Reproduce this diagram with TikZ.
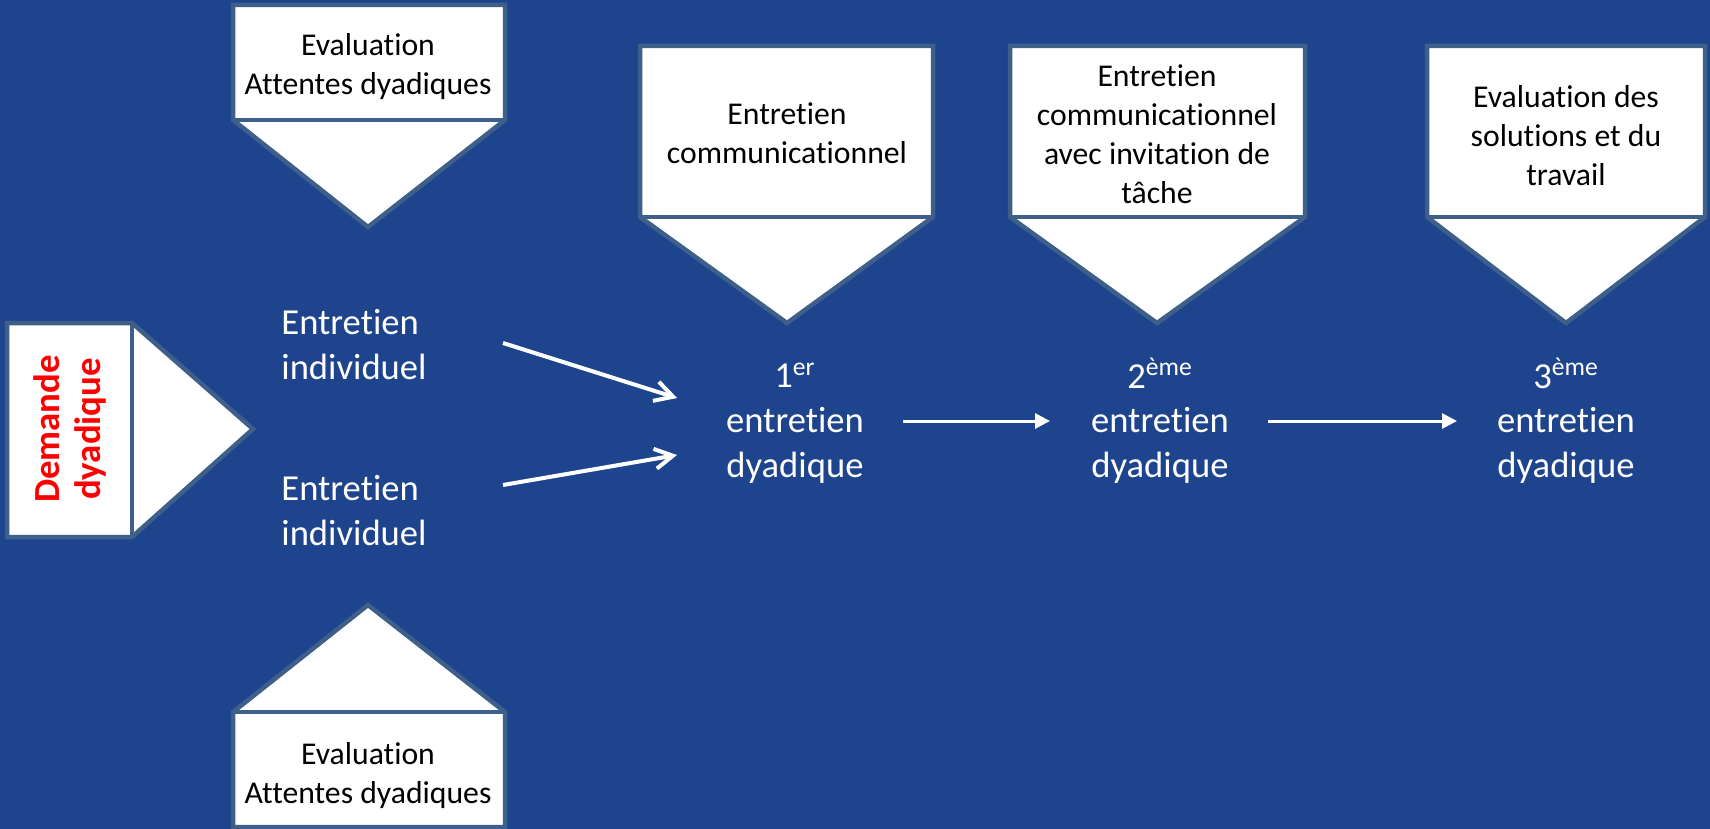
\documentclass[tikz,border=0pt]{standalone}
\usepackage{fontspec}
\setmainfont{Carlito}[RawFeature={-liga;-clig}]
\usetikzlibrary{arrows.meta}
\definecolor{slidebg}{RGB}{31,68,142}
\definecolor{calloutline}{RGB}{62,95,138}
\definecolor{alertred}{RGB}{255,0,0}

\begin{document}
\begin{tikzpicture}[x=0.5pt,y=-0.5pt,
  callout/.style={fill=white, draw=calloutline, line width=2.25pt, line join=miter},
  divider/.style={draw=calloutline, line width=2.25pt},
  boxtext/.style={text=black, font={\fontsize{15.85}{19.5}\selectfont}, align=center,
    inner sep=0pt, anchor=north, execute at begin node=\strut, execute at end node=\strut},
  steptext/.style={text=white, font={\fontsize{18.3}{22.3}\selectfont}, align=center,
    inner sep=0pt, anchor=north, execute at begin node=\strut, execute at end node=\strut},
  redtext/.style={text=alertred, font={\fontsize{18.4}{20.5}\selectfont\bfseries}, align=center,
    inner sep=0pt, anchor=north, rotate=90, execute at begin node=\strut, execute at end node=\strut},
  barb/.style={draw=white, line width=2pt, -{Straight Barb[length=9pt,width=10pt]}},
  flow/.style={draw=white, line width=1.5pt, -{Triangle[length=7.5pt,width=7.5pt]}}
]
\useasboundingbox (0,0) rectangle (1710,829);
\fill[slidebg] (0,0) rectangle (1710,829);

% left callout pointing right
\draw[callout] (7,323) -- (132,323) -- (253,429) -- (132,537) -- (7,537) -- cycle;
\draw[divider] (132,323) -- (132,537);
\node[redtext] (demande) at (33,429) {Demande\\dyadique};

% evaluation callouts above and below the individual interviews
\draw[callout] (233,5) -- (505,5) -- (505,120) -- (368,227) -- (233,120) -- cycle;
\draw[divider] (233,120) -- (505,120);
\node[boxtext] (evaltop) at (368,32.7) {Evaluation\\Attentes dyadiques};

\draw[callout] (233,827) -- (505,827) -- (505,712) -- (368,605) -- (233,712) -- cycle;
\draw[divider] (233,712) -- (505,712);
\node[boxtext] (evalbot) at (368,741.7) {Evaluation\\Attentes dyadiques};

% callouts over the dyadic interviews
\draw[callout] (640,46) -- (933,46) -- (933,217) -- (787,323) -- (640,217) -- cycle;
\draw[divider] (640,217) -- (933,217);
\node[boxtext] (commA) at (787,102.7) {Entretien\\communicationnel};

\draw[callout] (1010,46) -- (1305,46) -- (1305,217) -- (1157,323) -- (1010,217) -- cycle;
\draw[divider] (1010,217) -- (1305,217);
\node[boxtext] (commB) at (1157,64.7) {Entretien\\communicationnel\\avec invitation de\\tâche};

\draw[callout] (1427,46) -- (1705,46) -- (1705,217) -- (1566,323) -- (1427,217) -- cycle;
\draw[divider] (1427,217) -- (1705,217);
\node[boxtext] (evalsol) at (1566,84.7) {Evaluation des\\solutions et du\\travail};

% interview steps
\node[steptext, align=left, anchor=north west] (ind1) at (281,309) {Entretien\\individuel};
\node[steptext, align=left, anchor=north west] (ind2) at (281,475) {Entretien\\individuel};
\node[steptext] (dy1) at (795,364) {1\smash{\textsuperscript{er}}\\entretien\\dyadique};
\node[steptext] (dy2) at (1160,364) {2\smash{\textsuperscript{ème}}\\entretien\\dyadique};
\node[steptext] (dy3) at (1566,364) {3\smash{\textsuperscript{ème}}\\entretien\\dyadique};

% arrow ends
\coordinate (i1out) at (503,343);
\coordinate (i2out) at (503,485);
\coordinate (d1inA) at (677,398);
\coordinate (d1inB) at (677,455);
\coordinate (d1out) at (903,421);
\coordinate (d2in) at (1050,421);
\coordinate (d2out) at (1268,421);
\coordinate (d3in) at (1457,421);

\draw[barb] (i1out) -- (d1inA);
\draw[barb] (i2out) -- (d1inB);
\draw[flow] (d1out) -- (d2in);
\draw[flow] (d2out) -- (d3in);
\end{tikzpicture}
\end{document}
